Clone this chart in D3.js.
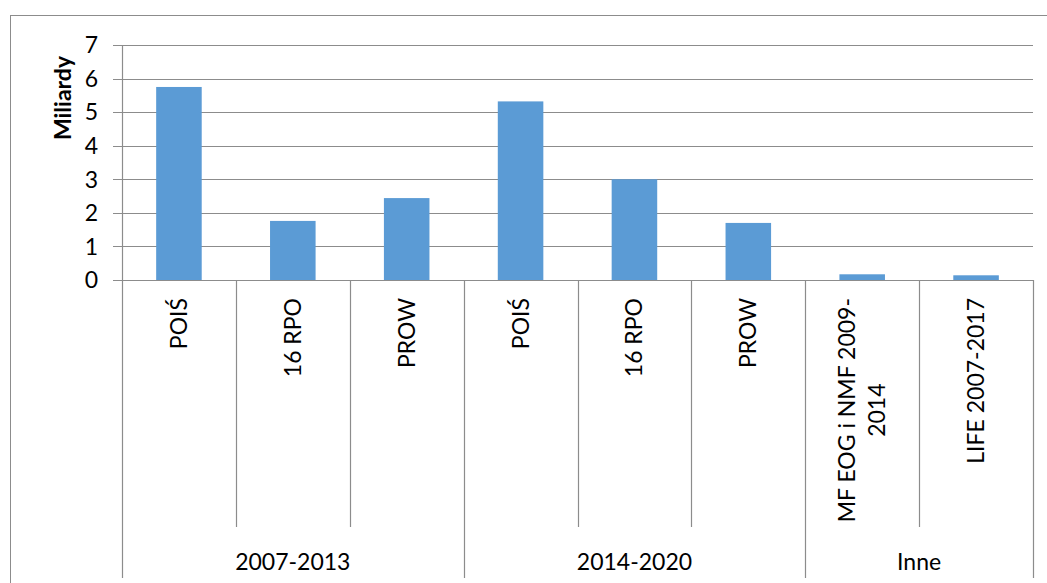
<!DOCTYPE html>
<html><head><meta charset="utf-8">
<script src="https://cdn.jsdelivr.net/npm/d3@7"></script>
<style>body{margin:0;background:#fff}svg{display:block}</style>
</head><body>
<svg id="c" width="1047" height="583"></svg>
<script>
const categories = ["POIŚ","16 RPO","PROW","POIŚ","16 RPO","PROW","MF EOG i NMF 2009-2014","LIFE 2007-2017"];
const groups = ["2007-2013","2007-2013","2007-2013","2014-2020","2014-2020","2014-2020","Inne","Inne"];
const values = [5.75,1.76,2.44,5.32,3.0,1.70,0.17,0.14];
const yTicks = [0,1,2,3,4,5,6,7];
const labelLines = [["POIŚ"],["16 RPO"],["PROW"],["POIŚ"],["16 RPO"],["PROW"],["MF EOG i NMF 2009-","2014"],["LIFE 2007-2017"]];

const svg = d3.select("#c");
const font = "Lato, 'Liberation Sans', sans-serif";
const L = 122, R = 1033, T = 45, B = 280;
const gridC = "#8c8c8c";
const fs = 23;

svg.append("rect").attr("x",10.5).attr("y",15.5).attr("width",1040).attr("height",600)
  .attr("fill","none").attr("stroke","#8c8c8c");

const x = d3.scaleBand().domain(d3.range(categories.length)).range([L,R]).paddingInner(0).paddingOuter(0);
const y = d3.scaleLinear().domain([0,7]).range([B,T]);

// grid
svg.append("g").selectAll("line").data(yTicks).join("line")
  .attr("x1",L-9).attr("x2",R).attr("y1",d=>Math.round(y(d))+0.5).attr("y2",d=>Math.round(y(d))+0.5)
  .attr("stroke",gridC).attr("stroke-width",1.2);
// y axis line
svg.append("line").attr("x1",L+0.5).attr("x2",L+0.5).attr("y1",T).attr("y2",B).attr("stroke",gridC).attr("stroke-width",1.2);
// y labels
svg.append("g").selectAll("text").data(yTicks).join("text")
  .attr("x",98).attr("y",d=>y(d)).attr("dy","0.36em").attr("text-anchor","end")
  .attr("font-family",font).attr("font-size",fs).attr("fill","#000").text(d=>d);
// y title
svg.append("text").attr("transform","translate(71,98) rotate(-90)").attr("text-anchor","middle")
  .attr("font-family",font).attr("font-size",23).attr("font-weight","bold").text("Miliardy");

// bars
const bw = x.bandwidth()*0.4;
svg.append("g").selectAll("rect").data(values).join("rect")
  .attr("x",(d,i)=>x(i)+(x.bandwidth()-bw)/2).attr("width",bw)
  .attr("y",d=>y(d)).attr("height",d=>y(0)-y(d)).attr("fill","#5b9bd5");

// category separators
const bounds = d3.range(categories.length+1).map(i=> i<categories.length ? x(i) : R);
bounds.forEach((bx,i)=>{
  const isGroup = i===0 || i===categories.length || groups[i]!==groups[i-1];
  svg.append("line").attr("x1",Math.round(bx)+0.5).attr("x2",Math.round(bx)+0.5)
    .attr("y1",B).attr("y2",isGroup?578:527).attr("stroke",gridC).attr("stroke-width",1.2);
});

// category labels
labelLines.forEach((lines,i)=>{
  const cx = x(i)+x.bandwidth()/2;
  const n = lines.length;
  const g = svg.append("g");
  const t0 = g.append("text").attr("font-family",font).attr("font-size",fs).text(lines[0]);
  const len0 = t0.node().getComputedTextLength();
  t0.remove();
  lines.forEach((ln,j)=>{
    const off = (j-(n-1)/2)*30;
    const lx = cx + off;
    g.append("text").attr("transform",`translate(${lx+8},${298+len0/2}) rotate(-90)`)
      .attr("text-anchor","middle").attr("font-family",font).attr("font-size",fs).text(ln);
  });
});

// group labels
const uniq = Array.from(new Set(groups));
uniq.forEach(gn=>{
  const idx = groups.map((g,i)=>g===gn?i:-1).filter(i=>i>=0);
  const x0 = x(idx[0]), x1 = x(idx[idx.length-1])+x.bandwidth();
  svg.append("text").attr("x",(x0+x1)/2).attr("y",570).attr("text-anchor","middle")
    .attr("font-family",font).attr("font-size",fs).text(gn);
});
</script>
</body></html>
